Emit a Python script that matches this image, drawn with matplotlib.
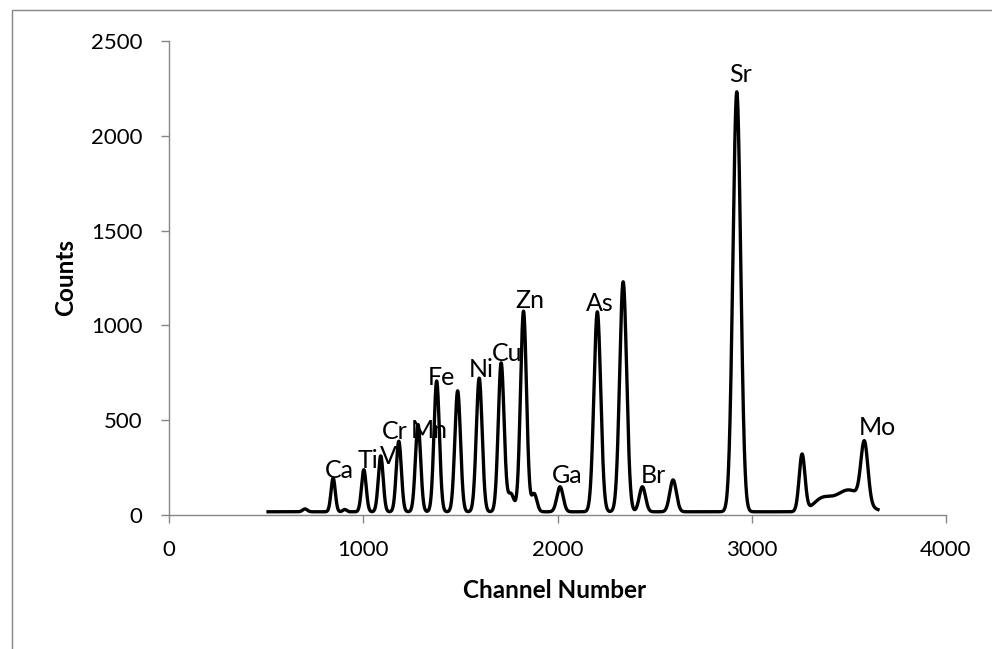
import numpy as np
import matplotlib
matplotlib.use("Agg")
import matplotlib.pyplot as plt
from matplotlib.patches import Rectangle

plt.rcParams['font.family'] = ['Lato', 'DejaVu Sans']

# XRF spectrum described as fluorescence lines on a flat detector background
channel_start, channel_end = 510, 3650
background_level = 17

peak_centre = [700, 845, 905, 1003, 1090, 1183, 1282, 1378, 1486, 1597, 1710,
               1760, 1825, 1880, 2013, 2205, 2338, 2437, 2595, 2923, 3259,
               3360, 3500, 3580]
peak_height = [15, 178, 12, 222, 295, 372, 460, 690, 638, 705, 785,
               95, 1058, 95, 132, 1055, 1213, 132, 168, 2215, 300,
               60, 115, 315]
peak_sigma = [12, 11, 10, 12, 12.5, 13, 13.5, 14, 14.5, 15, 15,
              16, 15.5, 14, 16, 17.5, 18, 16, 17, 20, 15,
              45, 70, 18]

# Element labels and where their text sits (channel, counts)
label_text = ["Ca", "Ti", "V", "Cr", "Mn", "Fe", "Ni", "Cu", "Zn", "Ga", "As", "Br", "Sr", "Mo"]
label_ch = [875, 1024, 1127, 1163, 1338, 1405, 1606, 1740, 1859, 2049, 2219, 2492, 2940, 3645]
label_counts = [237, 290, 311, 443, 448, 723, 770, 854, 1129, 206, 1113, 206, 2321, 459]

x_ticks = [0, 1000, 2000, 3000, 4000]
y_ticks = [0, 500, 1000, 1500, 2000, 2500]

channels = np.arange(channel_start, channel_end + 1)
counts = np.full(channels.shape, float(background_level))
for c, h, s in zip(peak_centre, peak_height, peak_sigma):
    counts += h * np.exp(-0.5 * ((channels - c) / s) ** 2)

W, H = 992, 649
fig = plt.figure(figsize=(W / 100, H / 100), dpi=100)
ax = fig.add_axes([169 / W, 1 - 515 / H, (946 - 169) / W, (515 - 41) / H])

ax.plot(channels, counts, color="black", lw=2.4, solid_joinstyle="round")

grey = "#868686"
ax.set_xlim(0, 4000)
ax.set_ylim(0, 2500)
ax.set_xticks(x_ticks)
ax.set_yticks(y_ticks)
for side in ("top", "right"):
    ax.spines[side].set_visible(False)
for side in ("left", "bottom"):
    ax.spines[side].set_color(grey)
    ax.spines[side].set_linewidth(1.0)
ax.tick_params(axis="both", direction="out", length=6, width=1.0, color=grey,
               labelcolor="black", labelsize=16)
ax.tick_params(axis="y", pad=13)
ax.tick_params(axis="x", pad=12)

for t, x, y in zip(label_text, label_ch, label_counts):
    ax.text(x, y, t, fontsize=18, ha="center", va="center", color="black")

ax.set_xlabel("Channel Number", fontsize=17.5, fontweight="bold")
ax.set_ylabel("Counts", fontsize=17.5, fontweight="bold")
ax.xaxis.set_label_coords((555 - 169) / 777, (515 - 591) / 474)
ax.xaxis.label.set_va("center")
ax.yaxis.set_label_coords((66 - 169) / 777, 0.5)
ax.yaxis.label.set_va("center")
ax.yaxis.label.set_ha("center")

# Chart-area frame
fig.add_artist(Rectangle((11.5 / W, -0.1), 1.5, (H - 9.5) / H + 0.1,
                         transform=fig.transFigure, fill=False,
                         edgecolor=grey, lw=1.0))

fig.savefig("out.png", dpi=100)
